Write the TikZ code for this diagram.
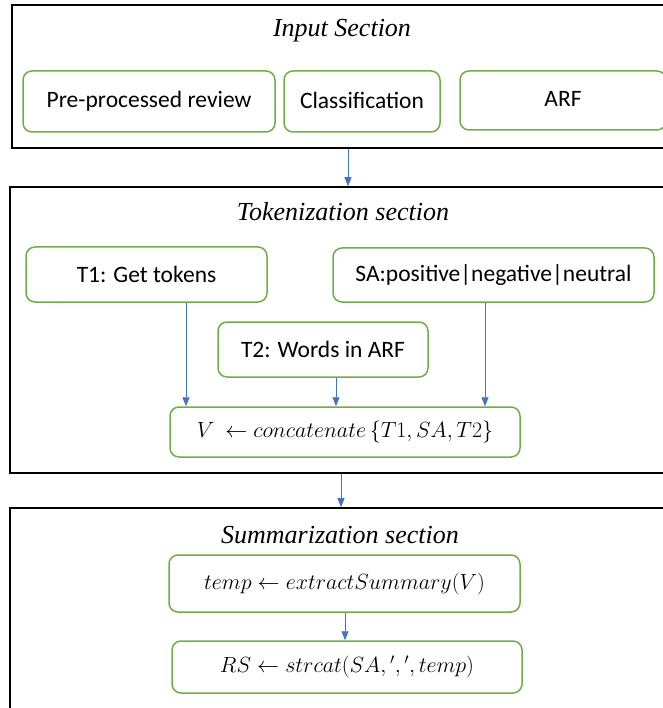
\RequirePackage{fix-cm}
\documentclass[tikz,border=0pt]{standalone}
\usepackage{fontspec}
\setmainfont{Carlito}
\newfontfamily\titlefont{Liberation Serif}
\usetikzlibrary{arrows.meta}
\definecolor{gbox}{HTML}{70AD47}
\definecolor{barrow}{HTML}{4472C4}
\tikzset{
  sectionbox/.style={draw=black, line width=1.6pt, rectangle, inner sep=0pt},
  gnode/.style={draw=gbox, line width=1.5pt, rounded corners=9pt, rectangle, inner sep=0pt, font=\fontsize{23.5}{27}\selectfont},
  mnode/.style={gnode, font=\fontsize{22}{26}\selectfont},
  ttl/.style={font=\titlefont\itshape\fontsize{26}{30}\selectfont, inner sep=0pt},
  arr/.style={draw=barrow, line width=0.8pt, -{Triangle[length=9pt,width=7pt]}},
}
\begin{document}
\begin{tikzpicture}[x=1pt,y=-1pt]
\useasboundingbox (0,0) rectangle (662,708);
% sections
\node[sectionbox, minimum width=672pt, minimum height=143pt] (inp) at (348,76.5) {};
\node[sectionbox, minimum width=676pt, minimum height=286pt] (tok) at (348,330) {};
\node[sectionbox, minimum width=676pt, minimum height=240pt] (sum) at (348,628) {};
% titles
\node[ttl] (tin) at (342,31) {Input Section};
\node[ttl] (ttok) at (343,212) {Tokenization section};
\node[ttl] (tsum) at (340,535) {Summarization section};
% input nodes
\node[gnode, minimum width=252pt, minimum height=61pt] (pre) at (149,101.5) {\raisebox{3pt}{Pre-processed review}};
\node[gnode, minimum width=156pt, minimum height=61pt] (cls) at (362,101.5) {\raisebox{3pt}{Classification}};
\node[gnode, minimum width=206pt, minimum height=59pt] (arf) at (563,100.5) {\raisebox{3pt}{ARF}};
% tokenization nodes
\node[gnode, minimum width=241pt, minimum height=55pt] (t1) at (146.5,274.5) {T1: Get tokens};
\node[gnode, minimum width=321pt, minimum height=54pt] (sa) at (493.5,275) {SA:positive|negative|neutral};
\node[gnode, minimum width=210pt, minimum height=55pt] (t2) at (323,349.5) {T2: Words in ARF};
\node[mnode, minimum width=350pt, minimum height=50pt] (v) at (345,432) {$V\ \leftarrow concatenate\,\{T1,SA,T2\}$};
% summarization nodes
\node[mnode, minimum width=351pt, minimum height=57pt] (tmp) at (344.5,583.5) {$temp\leftarrow extractSummary(V)$};
\node[mnode, minimum width=350pt, minimum height=52pt] (rs) at (347,667) {$RS\leftarrow strcat(SA,{}',{}',temp)$};
% arrow x positions
\coordinate (a0) at (348,0);
\coordinate (a1) at (186,0);
\coordinate (a2) at (336,0);
\coordinate (a3) at (485,0);
\coordinate (a4) at (341,0);
\coordinate (a5) at (345,0);
\draw[arr] (inp.south -| a0) -- (tok.north -| a0);
\draw[arr] (t1.south -| a1) -- (v.north -| a1);
\draw[arr] (t2.south -| a2) -- (v.north -| a2);
\draw[arr] (sa.south -| a3) -- (v.north -| a3);
\draw[arr] (tok.south -| a4) -- (sum.north -| a4);
\draw[arr] (tmp.south -| a5) -- (rs.north -| a5);
\end{tikzpicture}
\end{document}
